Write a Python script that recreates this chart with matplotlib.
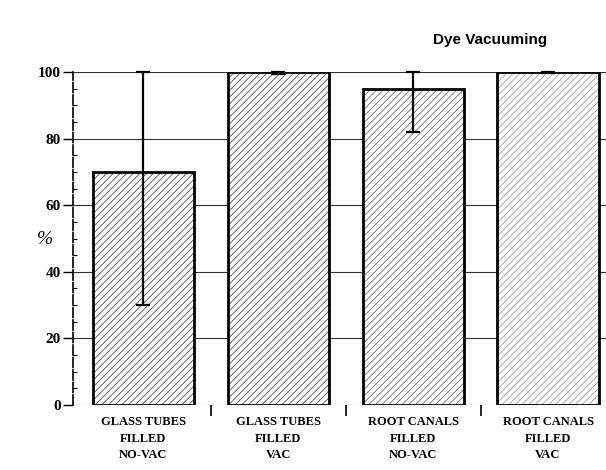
import matplotlib
matplotlib.use("Agg")
import matplotlib.pyplot as plt
import numpy as np

categories = ["GLASS TUBES\nFILLED\nNO-VAC", "GLASS TUBES\nFILLED\nVAC",
              "ROOT CANALS\nFILLED\nNO-VAC", "ROOT CANALS\nFILLED\nVAC"]
values = [70, 100, 95, 100]
err_low = [40, 0.5, 13, 0.3]
err_high = [30, 0, 5, 0]
yticks = [0, 20, 40, 60, 80, 100]
hatch_colors = ["#555555", "#555555", "#707070", "#a0a0a0"]

fig = plt.figure(figsize=(6.06, 4.70), dpi=100)
ax = fig.add_axes([73/606, 65/470, 1 - 73/606, 333/470])

x = np.arange(len(categories))
w = 0.75
plt.rcParams['hatch.linewidth'] = 0.6
for i in range(len(x)):
    ax.bar(x[i], values[i], width=w, color="white", edgecolor=hatch_colors[i],
           hatch="/////", linewidth=0, zorder=2)
ax.bar(x, values, width=w, color="none", edgecolor="black", linewidth=2.0, zorder=3)
ax.errorbar(x, values, yerr=[err_low, err_high], fmt="none", ecolor="black",
            elinewidth=1.6, capsize=5, capthick=1.6, zorder=4, clip_on=False)

ax.set_xlim(-0.522, 3.43)
ax.set_ylim(0, 100)
ax.set_yticks(yticks)
ax.set_yticklabels([str(v) for v in yticks], fontfamily="Liberation Serif",
                   fontweight="bold", fontsize=11)
ax.set_yticks(np.arange(0, 101, 5), minor=True)
ax.tick_params(axis="y", which="major", direction="out", length=7, width=1, pad=2)
ax.tick_params(axis="y", which="minor", direction="in", length=3, width=0.8)
ax.yaxis.grid(True, color="#333333", linewidth=0.8, zorder=0)
ax.set_axisbelow(True)

ax.set_xticks(x)
ax.set_xticklabels(categories, fontfamily="Liberation Serif", fontweight="bold",
                   fontsize=9, linespacing=1.5)
ax.tick_params(axis="x", which="major", length=0, pad=8)
ax.set_xticks(x[:-1] + 0.5, minor=True)
ax.tick_params(axis="x", which="minor", direction="out", length=8, width=1.2)

for s in ["top", "right", "bottom"]:
    ax.spines[s].set_visible(False)
ax.spines["left"].set_linewidth(1.2)
ax.spines["left"].set_linestyle((0, (6, 1.5)))

fig.text(45/606, 1 - 240/470, "%", fontfamily="Liberation Serif", fontsize=14,
         style="italic", ha="center", va="center")
fig.text(490/606, 1 - 40/470, "Dye Vacuuming", fontfamily="Liberation Sans",
         fontsize=11, fontweight="bold", ha="center", va="center")

fig.savefig("out.png", dpi=100)
